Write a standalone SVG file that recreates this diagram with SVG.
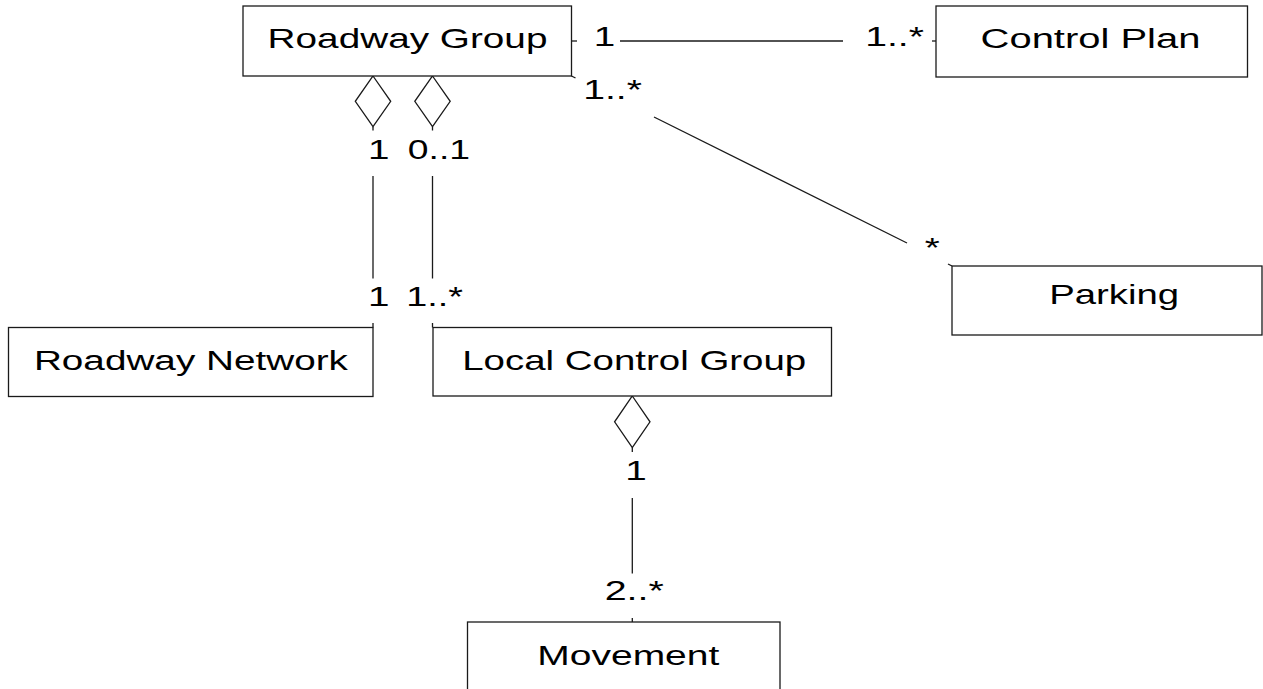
<svg xmlns="http://www.w3.org/2000/svg" width="1263" height="689" viewBox="0 0 1263 689">
  <style>
    .box { fill: #ffffff; stroke: #1a1a1a; stroke-width: 1.3; }
    .name, .mult { font-family: "Liberation Sans", Arial, sans-serif; font-size: 27px; fill: #000000; text-anchor: middle; }
    .edge { fill: none; stroke: #1a1a1a; stroke-width: 1.3; }
    .agg { fill: #ffffff; stroke: #1a1a1a; stroke-width: 1.3; }
  </style>
  <rect width="1263" height="689" fill="#ffffff"/>

  <!-- associations and aggregations -->
  <g id="connectors">
    <!-- Roadway Group - Control Plan -->
    <line class="edge" x1="571.5" y1="41" x2="577" y2="41"/>
    <line class="edge" x1="620" y1="41" x2="843" y2="41"/>
    <line class="edge" x1="932" y1="41" x2="936" y2="41"/>
    <!-- Roadway Group - Parking -->
    <line class="edge" x1="571.5" y1="76" x2="575.5" y2="78"/>
    <line class="edge" x1="654" y1="117" x2="907" y2="243"/>
    <line class="edge" x1="948" y1="264" x2="952" y2="266"/>
    <!-- Roadway Group <>- Roadway Network -->
    <polygon class="agg" points="373,76 390.7,101.3 373,126.7 355.3,101.3"/>
    <line class="edge" x1="373" y1="126.7" x2="373" y2="130.5"/>
    <line class="edge" x1="373" y1="176" x2="373" y2="278.5"/>
    <line class="edge" x1="373" y1="323" x2="373" y2="327.5"/>
    <!-- Roadway Group <>- Local Control Group -->
    <polygon class="agg" points="432.5,76 450.2,101.3 432.5,126.7 414.8,101.3"/>
    <line class="edge" x1="432.5" y1="126.7" x2="432.5" y2="130.5"/>
    <line class="edge" x1="432.5" y1="176" x2="432.5" y2="278.5"/>
    <line class="edge" x1="432.5" y1="323" x2="432.5" y2="327.5"/>
    <!-- Local Control Group <>- Movement -->
    <polygon class="agg" points="632.3,396 650,421.8 632.3,447.7 614.6,421.8"/>
    <line class="edge" x1="632.3" y1="447.7" x2="632.3" y2="452"/>
    <line class="edge" x1="632.3" y1="498" x2="632.3" y2="573.5"/>
    <line class="edge" x1="632.3" y1="618" x2="632.3" y2="622"/>

    <!-- multiplicities (wide-set type) -->
    <text class="mult" transform="translate(604.4,46) scale(1.43,1)">1</text>
    <text class="mult" transform="translate(894.6,46) scale(1.45,1)">1..*</text>
    <text class="mult" transform="translate(612.5,99) scale(1.45,1)">1..*</text>
    <text class="mult" transform="translate(932.3,257) scale(1.43,1)">*</text>
    <text class="mult" transform="translate(378.7,159.3) scale(1.43,1)">1</text>
    <text class="mult" transform="translate(438.9,159.3) scale(1.38,1)">0..1</text>
    <text class="mult" transform="translate(378.7,305.7) scale(1.43,1)">1</text>
    <text class="mult" transform="translate(434.5,305.7) scale(1.4,1)">1..*</text>
    <text class="mult" transform="translate(636,480) scale(1.43,1)">1</text>
    <text class="mult" transform="translate(634.2,600) scale(1.46,1)">2..*</text>
  </g>

  <g id="roadway-group">
    <rect class="box" x="243" y="6" width="328.5" height="70"/>
    <text class="name" transform="translate(407.5,47.5) scale(1.435,1)">Roadway Group</text>
  </g>

  <g id="control-plan">
    <rect class="box" x="936" y="6" width="311.5" height="71"/>
    <text class="name" transform="translate(1090.5,48) scale(1.48,1)">Control Plan</text>
  </g>

  <g id="parking">
    <rect class="box" x="952" y="266" width="310" height="69"/>
    <text class="name" transform="translate(1114.2,304) scale(1.42,1)">Parking</text>
  </g>

  <g id="roadway-network">
    <rect class="box" x="8.5" y="327.5" width="364.5" height="69"/>
    <text class="name" transform="translate(190.9,370) scale(1.434,1)">Roadway Network</text>
  </g>

  <g id="local-control-group">
    <rect class="box" x="433" y="327.5" width="398.5" height="68.5"/>
    <text class="name" transform="translate(634.2,370) scale(1.424,1)">Local Control Group</text>
  </g>

  <g id="movement">
    <rect class="box" x="467.5" y="622" width="312.5" height="100"/>
    <text class="name" transform="translate(628.3,665) scale(1.444,1)">Movement</text>
  </g>
</svg>
